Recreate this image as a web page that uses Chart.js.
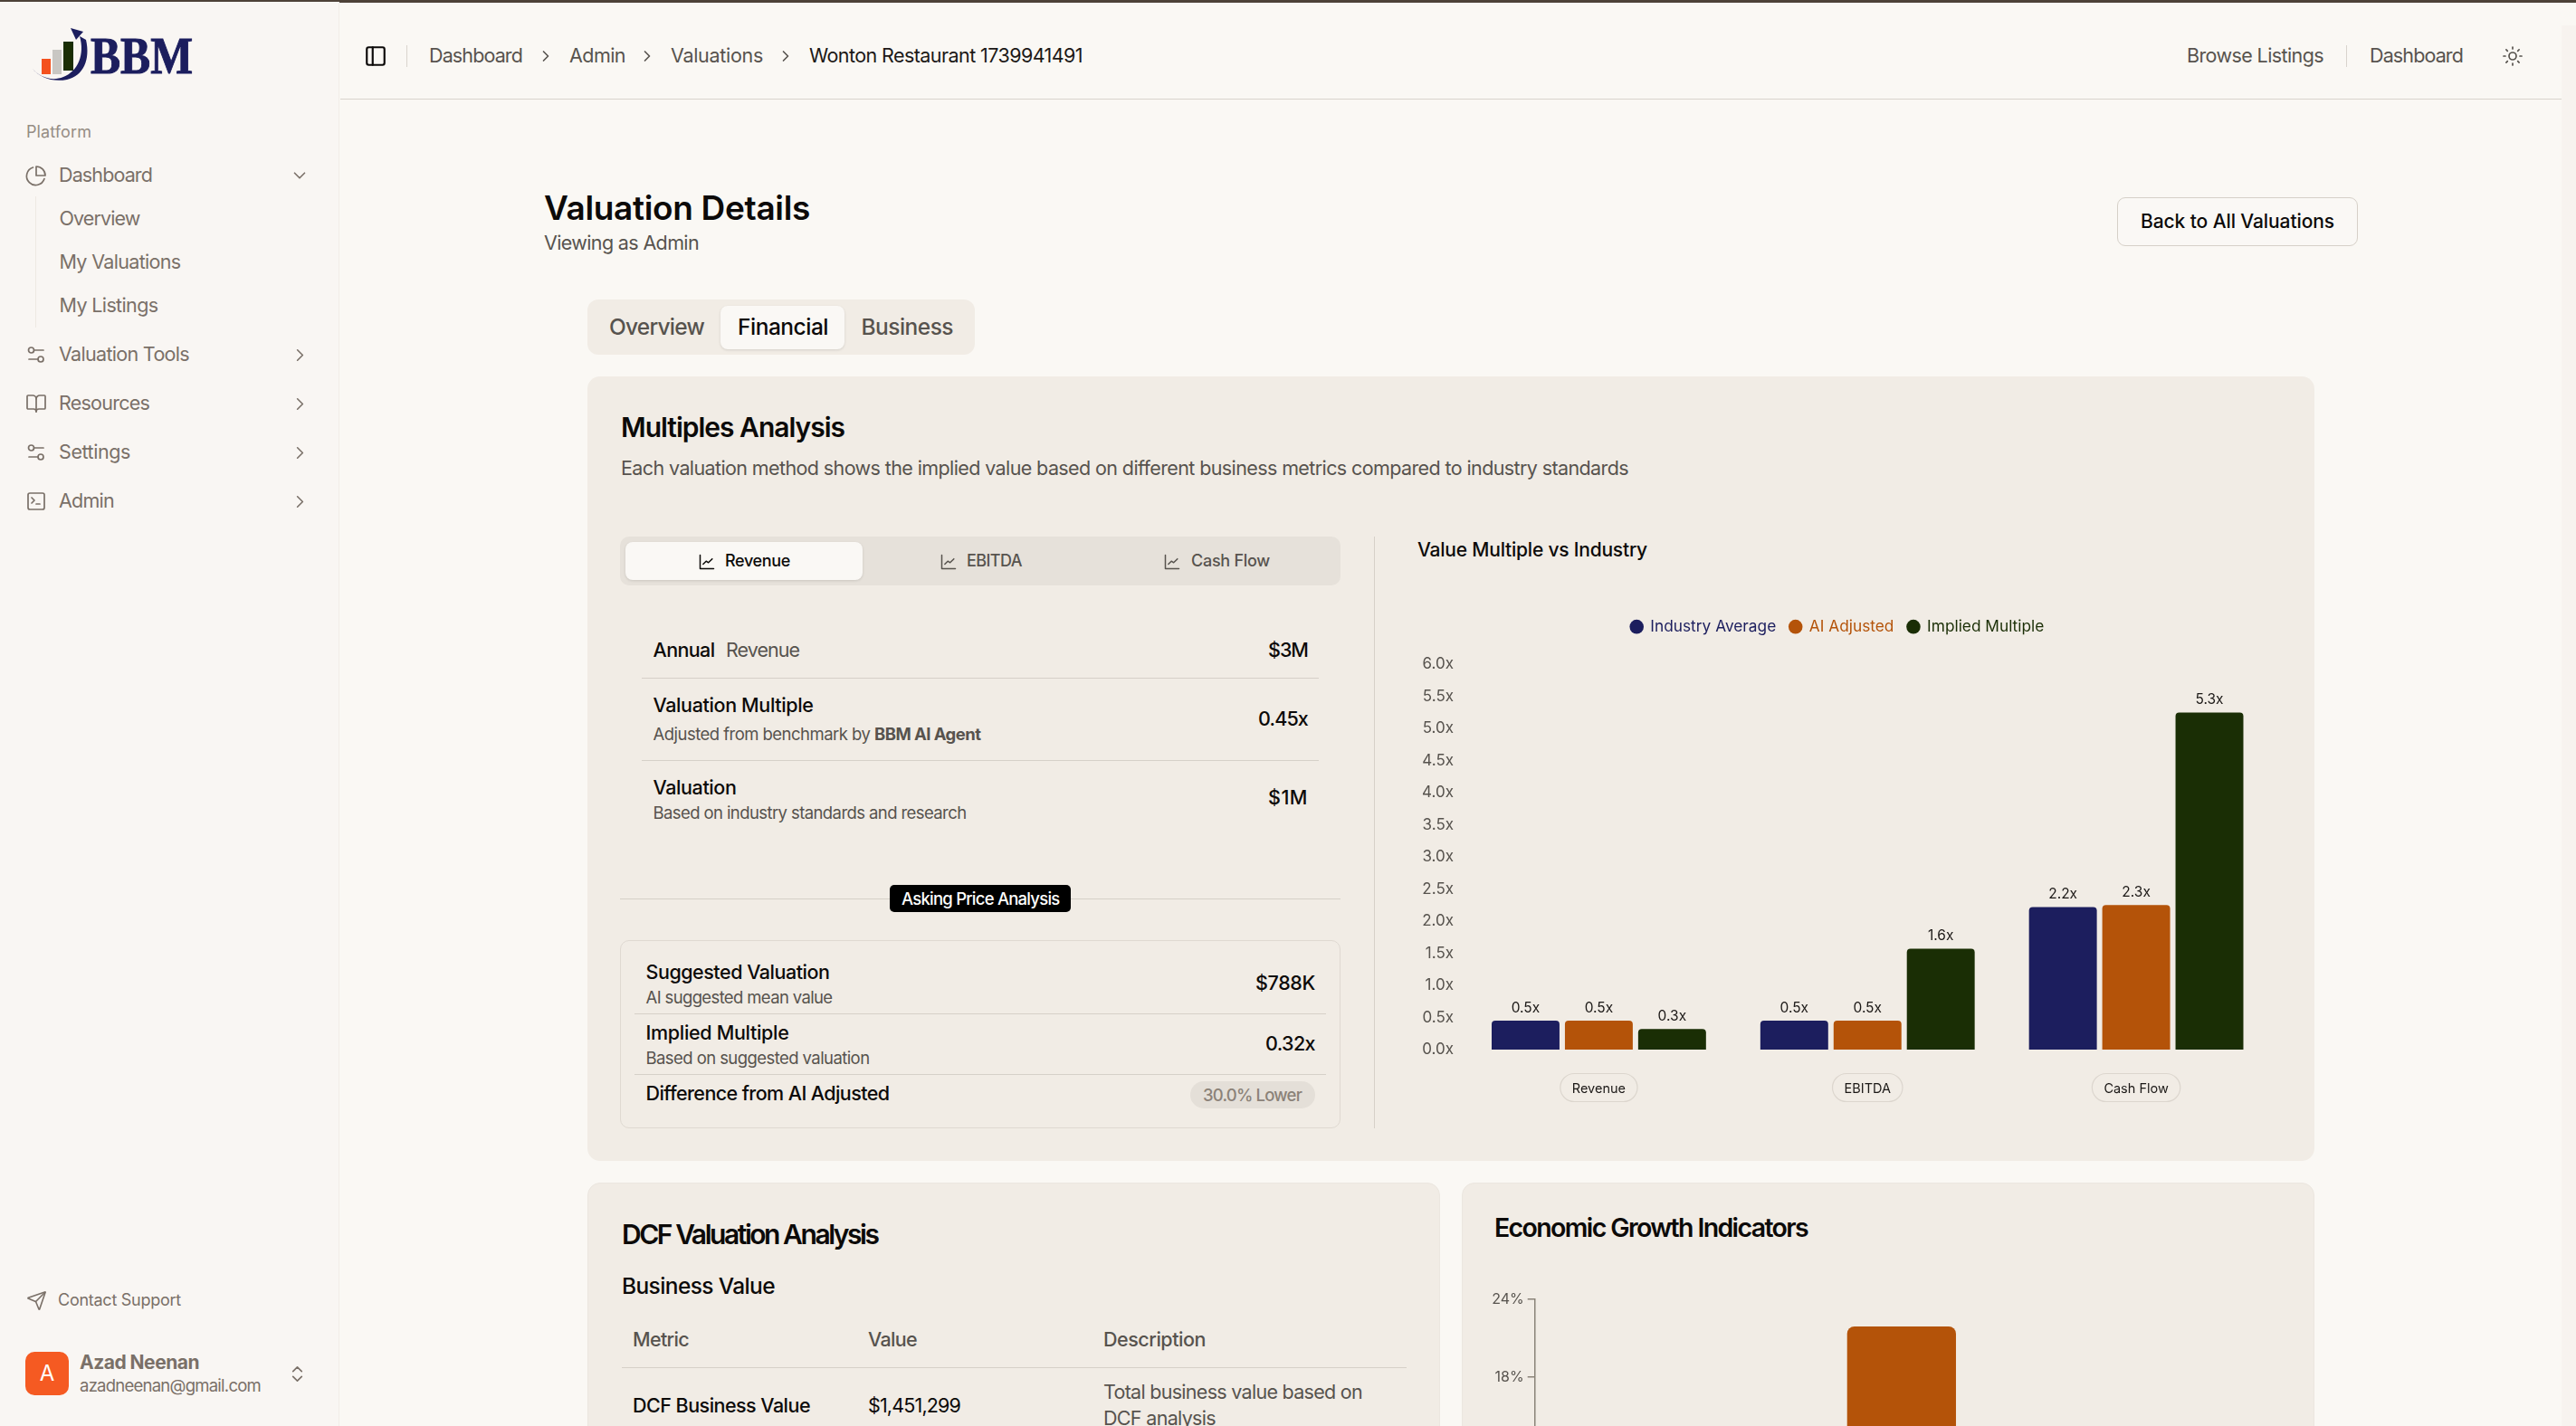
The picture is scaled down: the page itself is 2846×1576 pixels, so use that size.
<!DOCTYPE html>
<html><head><meta charset="utf-8">
<script src="https://cdn.jsdelivr.net/npm/chart.js@4"></script>
<style>
html,body{margin:0;padding:0;width:2846px;height:1576px;overflow:hidden;background:#faf8f4;font-family:Inter,"Noto Sans",sans-serif}
.b{position:absolute;box-sizing:border-box}
.t{position:absolute;white-space:nowrap;line-height:1.2;transform:translateY(-50%);z-index:3}
svg.i{position:absolute;fill:none;stroke-linecap:round;stroke-linejoin:round;overflow:visible;z-index:3}
canvas{position:absolute;z-index:2}
</style></head><body>
<canvas id="multiplesChart" width="980" height="571" style="left:1540px;top:669px;width:980px;height:571px"></canvas>
<canvas id="growthChart" width="900" height="400" style="left:1640px;top:1420px;width:900px;height:400px"></canvas>
<script>
// ---- chart data ----
const categories = ['Revenue', 'EBITDA', 'Cash Flow'];
const industryAverage = [0.45, 0.45, 2.22];
const aiAdjusted = [0.45, 0.45, 2.25];
const impliedMultiple = [0.32, 1.57, 5.25];
const seriesNames = ['Industry Average', 'AI Adjusted', 'Implied Multiple'];
const growthCategories = [''];
const growthValues = [21.9];

const NAVY='#1c1e5e', ORANGE='#b45309', GREEN='#1a2e05';
const body=document.body;
function box(x,y,w,h,st){const d=document.createElement('div');d.className='b';
  d.style.cssText=`left:${x}px;top:${y}px;width:${w}px;height:${h}px;`+(st||'');body.appendChild(d);return d;}
function T(x,y,s,size,col,wt,w,right){const d=document.createElement('div');d.className='t';d.innerHTML=s;
  d.style.fontSize=size+'px';d.style.color=col;d.style.fontWeight=wt||400;d.style.top=y+'px';
  if(right)d.style.right=(2846-x)+'px';else d.style.left=x+'px';
  body.appendChild(d);if(w)d.dataset.w=w;return d;}
function I(x,y,sz,paths,col,sw){const e=document.createElementNS('http://www.w3.org/2000/svg','svg');e.setAttribute('class','i');
  e.setAttribute('viewBox','0 0 24 24');e.setAttribute('width',sz);e.setAttribute('height',sz);
  e.style.left=(x-sz/2)+'px';e.style.top=(y-sz/2)+'px';e.style.stroke=col;e.style.strokeWidth=sw||2;e.innerHTML=paths;body.appendChild(e);}
const P={
 pie:'<path d="M21 15.5A10 10 0 1 1 8.5 3"/><path d="M22 12A10 10 0 0 0 12 2v10z"/>',
 sliders:'<path d="M14 17H4"/><path d="M20 7h-10"/><circle cx="17" cy="17" r="3"/><circle cx="6.5" cy="7" r="3"/>',
 book:'<path d="M12 7v14"/><path d="M3 18a1 1 0 0 1-1-1V4a1 1 0 0 1 1-1h5a4 4 0 0 1 4 4 4 4 0 0 1 4-4h5a1 1 0 0 1 1 1v13a1 1 0 0 1-1 1h-6a3 3 0 0 0-3 3 3 3 0 0 0-3-3z"/>',
 term:'<rect x="3" y="3" width="18" height="18" rx="2"/><path d="m7 8 3 3-3 3"/><path d="M12 15h4"/>',
 right:'<path d="m9 18 6-6-6-6"/>', down:'<path d="m6 9 6 6 6-6"/>',
 panel:'<rect x="3" y="3" width="18" height="18" rx="2"/><path d="M9 3v18"/>',
 send:'<path d="M14.5 21.7a.5.5 0 0 0 .9 0l6.5-19a.5.5 0 0 0-.6-.6l-19 6.5a.5.5 0 0 0 0 .9l7.9 3.2a2 2 0 0 1 1.1 1.1z"/><path d="m21.9 2.1-10.9 10.9"/>',
 updown:'<path d="m7 15 5 5 5-5"/><path d="m7 9 5-5 5 5"/>',
 sun:'<circle cx="12" cy="12" r="4"/><path d="M12 2v2M12 20v2M4.9 4.9l1.4 1.4M17.7 17.7l1.4 1.4M2 12h2M20 12h2M6.3 17.7l-1.4 1.4M19.1 4.9l-1.4 1.4"/>',
 line:'<path d="M3 3v18h18"/><path d="m7 15 4-4 3 2 5-5"/>'
};
const INK='#0c0a09', TXT='#57534e', SIDE='#7a7068';

// backgrounds
box(0,0,2846,2.5,'background:#4d4238');
box(0,2,375,1574,'background:#f9f6f3;border-right:1px solid #f1ede8');
box(2830,28,16,1548,'background:#f7f3ef');
box(376,109,2454,1,'background:#d9d4cd');
// logo
(function(){const e=document.createElementNS('http://www.w3.org/2000/svg','svg');e.setAttribute('width',230);e.setAttribute('height',100);
 e.style.cssText='position:absolute;left:0;top:0;z-index:3';
 e.innerHTML=`<rect x="46" y="65" width="10" height="17" fill="#f4511e"/><rect x="58" y="55" width="10" height="27" fill="#c9c7c3"/><rect x="70" y="46" width="11" height="32" fill="#1a2e05"/>
 <path d="M35 75 C44 86 58 90 70 85 C86 79 94 60 88 40 L95 44 C100 66 92 84 74 88 C58 91 44 86 35 75Z" fill="${NAVY}"/>
 <path d="M78 31 L92 35 L84 44Z" fill="${NAVY}"/>
 <text x="100" y="81" font-family="Liberation Serif" font-weight="700" font-size="56" fill="${NAVY}" stroke="${NAVY}" stroke-width="1" textLength="113" lengthAdjust="spacingAndGlyphs">BBM</text>`;
 body.appendChild(e);})();
// sidebar
T(29,146,'Platform',18,'#968d84',400,72);
I(40,194,24,P.pie,SIDE,1.7); T(65,194,'Dashboard',21.5,SIDE,400,103); I(331,194,22,P.down,SIDE,1.8);
box(39,217,1,145,'background:#eee9e3');
T(65.5,241.5,'Overview',21.5,SIDE,400,89); T(65.5,290,'My Valuations',21.5,SIDE,400,134); T(65.5,338,'My Listings',21.5,SIDE,400,109);
[['Valuation Tools',392,P.sliders,144],['Resources',446,P.book,100],['Settings',500,P.sliders,79],['Admin',554,P.term,61]].forEach(r=>{
 I(40,r[1],24,r[2],SIDE,1.7);T(65,r[1],r[0],21.5,SIDE,400,r[3]);I(331,r[1],23,P.right,SIDE,1.7);});
I(40,1437,23,P.send,SIDE,1.7); T(64,1437,'Contact Support',18,SIDE,400,136);
box(28,1494,48,48,'background:#f55a22;border-radius:10px');
T(52,1518,'A',24,'#fff',400).style.transform='translate(-50%,-50%)';
T(88,1506,'Azad Neenan',21,SIDE,700,132); T(88,1531,'azadneenan@gmail.com',18.5,SIDE,400,200);
I(328,1518,23,P.updown,SIDE,1.7);
// header
I(415,62,26,P.panel,'#0c0a09',2);
box(449,50,1,24,'background:#d9d4cd');
T(474,62,'Dashboard',21.5,TXT,400,103); I(603,62,20,P.right,TXT,2);
T(629,62,'Admin',21.5,TXT,400,62); I(715,62,20,P.right,TXT,2);
T(741,62,'Valuations',21.5,TXT,400,102); I(868,62,20,P.right,TXT,2);
T(894,62,'Wonton Restaurant 1739941491',21.5,'#1c1917',400,302);
T(2416,62,'Browse Listings',21.5,TXT,400,151); box(2592,50,1,24,'background:#d9d4cd');
T(2618,62,'Dashboard',21.5,TXT,400,103); I(2776,62,24,P.sun,TXT,1.7);
// title
T(601,230,'Valuation Details',37,INK,600,294); T(601,268.5,'Viewing as Admin',21.5,TXT,400,171);
box(2339,218,266,54,'border:1.5px solid #d6d0c8;border-radius:9px;background:#faf8f5');
T(2365,245,'Back to All Valuations',21,INK,500,214);
// tabs
box(649,331,428,61,'background:#f1ece5;border-radius:12px');
box(796,338,137,48,'background:#faf8f5;border-radius:8px;box-shadow:0 1px 3px rgba(0,0,0,.12)');
T(673,361.5,'Overview',24.5,TXT,500,105); T(815,361.5,'Financial',24.5,INK,500,100); T(951.5,361.5,'Business',24.5,TXT,500,101.5);
// card 1
box(649,416,1908,867,'background:#f1ece5;border-radius:14px');
T(686,472,'Multiples Analysis',30,INK,600,247);
T(686,518,'Each valuation method shows the implied value based on different business metrics compared to industry standards',21.5,TXT,400,1113);
box(685,593,796,53.5,'background:#e6e1da;border-radius:10px');
box(690.5,599,262.5,42,'background:#faf8f5;border-radius:8px;box-shadow:0 1px 3px rgba(0,0,0,.12)');
I(780.5,620.5,20,P.line,INK,1.8); T(801,620,'Revenue',18,INK,500,72);
I(1047.5,620.5,20,P.line,TXT,1.8); T(1068,620,'EBITDA',18,TXT,500,61);
I(1295,620.5,20,P.line,TXT,1.8); T(1316,620,'Cash Flow',18,TXT,500,87);
box(1518,593,1,654,'background:#d6d0c8');
T(721.5,719,'Annual',21.5,INK,500,68); T(802,719,'Revenue',21.5,TXT,400,81); T(1445,719,'$3M',21.5,INK,500,44,1);
box(709,749,748,1,'background:#d6d0c8');
T(721.5,780,'Valuation Multiple',21.5,INK,500,177); T(721.5,811,'Adjusted from benchmark by <b style="font-weight:700">BBM AI Agent</b>',18.5,TXT,400,362); T(1445,795,'0.45x',21.5,INK,500,55,1);
box(709,840,748,1,'background:#d6d0c8');
T(721.5,871,'Valuation',21.5,INK,500,92); T(721.5,898,'Based on industry standards and research',18.5,TXT,400,346); T(1445,882,'$1M',21.5,INK,500,44,1);
box(685,993,796,1,'background:#d6d0c8');
box(983,978,199.5,30,'background:#000;border-radius:5px');
T(996,993,'Asking Price Analysis',18.5,'#fff',500,174.5);
box(685,1038.5,796,208.5,'border:1px solid #dfd9d1;border-radius:10px');
T(713.5,1075,'Suggested Valuation',21.5,INK,500,203); T(713.5,1102,'AI suggested mean value',18.5,TXT,400,206); T(1453,1086.5,'$788K',21.5,INK,500,66,1);
box(701,1120,764,1,'background:#d6d0c8');
T(713.5,1142,'Implied Multiple',21.5,INK,500,158); T(713.5,1169,'Based on suggested valuation',18.5,TXT,400,247); T(1453,1154,'0.32x',21.5,INK,500,55,1);
box(701,1187,764,1,'background:#d6d0c8');
T(713.5,1209,'Difference from AI Adjusted',21.5,INK,500,269);
box(1314.5,1195,138.5,30,'background:#e4dfd8;border-radius:15px');
T(1329,1210,'30.0% Lower',18.5,'#8b8278',500,109);
T(1566,607.5,'Value Multiple vs Industry',21,INK,500,254);
// card 2 & 3
box(649,1307,942,300,'background:#f1ece5;border-radius:14px;border:1px solid #ebe6df');
box(1615,1307,942,300,'background:#f1ece5;border-radius:14px;border:1px solid #ebe6df');
T(687,1364,'DCF Valuation Analysis',30,INK,600,282.5);
T(687,1421.5,'Business Value',24.5,INK,500,169);
T(699,1481,'Metric',21.5,TXT,500,62); T(959,1481,'Value',21.5,TXT,500,54); T(1219,1481,'Description',21.5,TXT,500,113);
box(687,1511,867,1,'background:#d6d0c8');
T(699,1554,'DCF Business Value',21.5,INK,500,196); T(959,1554,'$1,451,299',21.5,INK,400,102);
T(1219,1539,'Total business value based on',21.5,TXT,400,286); T(1219,1568,'DCF analysis',21.5,TXT,400,124);
T(1651,1357,'Economic Growth Indicators',28.5,INK,600,346);

// fit widths through letter-spacing so text stays real text
document.querySelectorAll('.t[data-w]').forEach(d=>{
  const tw=+d.dataset.w, w=d.getBoundingClientRect().width, n=d.textContent.length;
  d.style.letterSpacing=((tw-w)/n).toFixed(3)+'px';});

// ---- charts ----
Chart.defaults.font.family='Inter';
Chart.defaults.devicePixelRatio=1;
Chart.defaults.animation=false;
const colors=[NAVY,ORANGE,GREEN];
const rad={topLeft:4,topRight:4,bottomLeft:0,bottomRight:0};
const pillsAndLabels={id:'pillsAndLabels',
 beforeInit(c){const f=c.legend.fit;c.legend.fit=function(){f.call(this);this.height+=23;};},
 afterDatasetsDraw(c){const g=c.ctx;g.save();
  g.font='15.5px Inter';g.fillStyle='#1c1917';g.textAlign='center';g.textBaseline='middle';
  c.data.datasets.forEach((ds,i)=>{c.getDatasetMeta(i).data.forEach((el,j)=>{
    g.fillText(ds.data[j].toFixed(1)+'x',el.x,el.y-14);});});
  const xs=c.scales.x;g.font='14.5px Inter';g.strokeStyle='#dcd6ce';g.lineWidth=1.2;
  categories.forEach((n,i)=>{const w=g.measureText(n).width+26,x=xs.getPixelForTick(i);
    g.beginPath();g.roundRect(x-w/2,xs.bottom-53.5,w,31,15.5);g.stroke();});
  g.restore();}};
new Chart(document.getElementById('multiplesChart'),{
 type:'bar',plugins:[pillsAndLabels],
 data:{labels:categories,datasets:[industryAverage,aiAdjusted,impliedMultiple].map((d,i)=>({label:seriesNames[i],data:d,backgroundColor:colors[i],borderRadius:rad,categoryPercentage:.818,barPercentage:.926}))},
 options:{responsive:false,maintainAspectRatio:false,
  layout:{padding:{left:11.5,right:11.5,top:0,bottom:0}},
  plugins:{tooltip:{enabled:false},legend:{position:'top',align:'center',
   labels:{usePointStyle:true,boxHeight:11,boxWidth:13,padding:15,font:{size:17.3},
    generateLabels:c=>c.data.datasets.map((d,i)=>({text:d.label,fillStyle:colors[i],strokeStyle:colors[i],fontColor:colors[i],lineWidth:0,pointStyle:'circle',datasetIndex:i,hidden:false}))}}},
  scales:{
   x:{grid:{display:false,drawTicks:false},border:{display:false},ticks:{padding:35,color:'#1c1917',font:{size:14.5},maxRotation:0},afterFit:s=>{s.height=80;}},
   y:{min:0,max:6,grid:{display:false,drawTicks:false},border:{display:false},
      ticks:{stepSize:.5,padding:12,color:TXT,font:{size:17},callback:v=>v.toFixed(1)+'x'},afterFit:s=>{s.width=66.5;}}}}
});
new Chart(document.getElementById('growthChart'),{
 type:'bar',
 data:{labels:growthCategories,datasets:[{data:growthValues,backgroundColor:ORANGE,borderRadius:{topLeft:8,topRight:8,bottomLeft:0,bottomRight:0},categoryPercentage:1,barPercentage:.1484}]},
 options:{responsive:false,maintainAspectRatio:false,
  layout:{padding:{left:0,right:34,top:15.7,bottom:0}},
  plugins:{tooltip:{enabled:false},legend:{display:false}},
  scales:{
   x:{grid:{display:false},border:{color:'#8a8378',width:1.5},ticks:{font:{size:15}},afterFit:s=>{s.height=39;}},
   y:{min:0,max:24,grid:{drawOnChartArea:false,color:'#8a8378',tickLength:8,lineWidth:1.5},border:{color:'#8a8378',width:1.5},
      ticks:{stepSize:6,padding:4,color:TXT,font:{size:16},callback:v=>v+'%'},afterFit:s=>{s.width=55.7;}}}}
});
</script>
</body></html>
